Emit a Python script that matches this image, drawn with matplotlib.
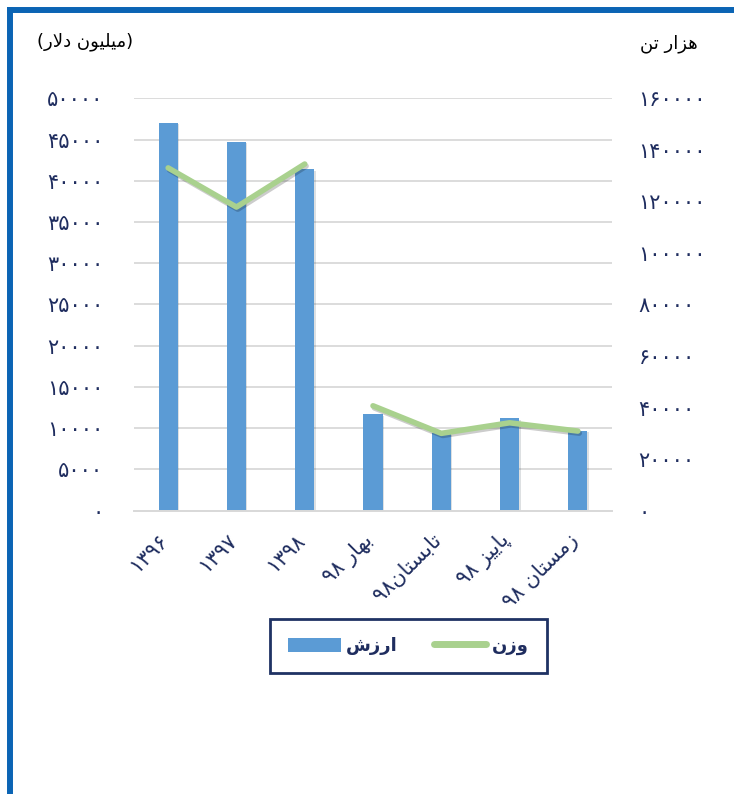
import re
import matplotlib
matplotlib.use("Agg")
import matplotlib.pyplot as plt
import matplotlib.transforms as mtransforms
import matplotlib.patheffects as pe
from matplotlib.patches import Patch
from matplotlib.lines import Line2D
import numpy as np

plt.rcParams['font.family'] = ['DejaVu Sans']

# ── data ──
categories = ['۱۳۹۶', '۱۳۹۷', '۱۳۹۸', 'بهار ۹۸', 'تابستان۹۸', 'پاییز ۹۸', 'زمستان ۹۸']
value_musd = [47000, 44700, 41400, 11700, 9400, 11200, 9700]        # ارزش (میلیون دلار)
weight_kt = [133000, 117800, 134500, 40700, 30000, 34100, 30900]     # وزن (هزار تن)
n_years = 3   # first three are whole years, the rest are seasons of 98 (line is broken between)
left_ticks = list(range(0, 50001, 5000))
right_ticks = list(range(0, 160001, 20000))

# ── tiny Persian shaper (matplotlib has no shaping / bidi) ──
# isolated, final, initial, medial
FORMS = {
    '\u0627': (0xFE8D, 0xFE8E), '\u062F': (0xFEA9, 0xFEAA), '\u0631': (0xFEAD, 0xFEAE),
    '\u0632': (0xFEAF, 0xFEB0), '\u0648': (0xFEED, 0xFEEE),
    '\u0628': (0xFE8F, 0xFE90, 0xFE91, 0xFE92), '\u067E': (0xFB56, 0xFB57, 0xFB58, 0xFB59),
    '\u062A': (0xFE95, 0xFE96, 0xFE97, 0xFE98), '\u0633': (0xFEB1, 0xFEB2, 0xFEB3, 0xFEB4),
    '\u0634': (0xFEB5, 0xFEB6, 0xFEB7, 0xFEB8), '\u0644': (0xFEDD, 0xFEDE, 0xFEDF, 0xFEE0),
    '\u0645': (0xFEE1, 0xFEE2, 0xFEE3, 0xFEE4), '\u0646': (0xFEE5, 0xFEE6, 0xFEE7, 0xFEE8),
    '\u0647': (0xFEE9, 0xFEEA, 0xFEEB, 0xFEEC), '\u06CC': (0xFBFC, 0xFBFD, 0xFBFE, 0xFBFF),
}


def shape(text):
    text = text.replace('\u064A', '\u06CC')
    out = []
    i = 0
    while i < len(text):
        c = text[i]
        if c not in FORMS:
            out.append(c)
            i += 1
            continue
        prev = text[i - 1] if i > 0 else ''
        joins_prev = prev in FORMS and len(FORMS[prev]) == 4
        if c == '\u0644' and i + 1 < len(text) and text[i + 1] == '\u0627':
            out.append(chr(0xFEFC if joins_prev else 0xFEFB))
            i += 2
            continue
        nxt = text[i + 1] if i + 1 < len(text) else ''
        joins_next = len(FORMS[c]) == 4 and nxt in FORMS
        f = FORMS[c]
        if joins_prev and joins_next:
            g = f[3]
        elif joins_prev:
            g = f[1]
        elif joins_next:
            g = f[2]
        else:
            g = f[0]
        out.append(chr(g))
        i += 1
    return ''.join(out)


def fa(text):
    parts = re.findall(r'\d+|\D+', shape(text))
    out = []
    for p in reversed(parts):
        if p[0].isdigit():
            out.append(p)
        else:
            out.append(p[::-1].translate(str.maketrans('()', ')(')))
    return ''.join(out)


def fa_num(n):
    return str(n).translate(str.maketrans('0123456789', '۰۱۲۳۴۵۶۷۸۹'))


# ── plot ──
W, H = 734, 794
fig = plt.figure(figsize=(W / 100, H / 100), dpi=100)
ax = fig.add_axes([134 / W, 1 - 510.7 / H, 478 / W, 412.4 / H])
ax2 = ax.twinx()

navy = '#1F2D5F'
bar_c = '#5B9BD5'
line_c = '#A9D18E'
grid_c = '#D9D9D9'

x = np.arange(len(categories))
ax.bar(x, value_musd, width=0.28, color=bar_c, zorder=2,
       path_effects=[pe.SimplePatchShadow(offset=(1, -1), alpha=0.15), pe.Normal()])

line_fx = [pe.SimpleLineShadow(offset=(1, -1.5), alpha=0.2), pe.Normal()]
ax2.plot(x[:n_years], weight_kt[:n_years], color=line_c, lw=4, solid_capstyle='round',
         solid_joinstyle='round', path_effects=line_fx)
ax2.plot(x[n_years:], weight_kt[n_years:], color=line_c, lw=4, solid_capstyle='round',
         solid_joinstyle='round', path_effects=line_fx)

ax.set_xlim(-0.5, len(categories) - 0.5)
ax.set_ylim(0, 50000)
ax2.set_ylim(0, 160000)

ax.set_yticks(left_ticks)
ax.set_yticklabels([fa_num(t) for t in left_ticks])
ax2.set_yticks(right_ticks)
ax2.set_yticklabels([fa_num(t) for t in right_ticks])

ax.yaxis.grid(True, color=grid_c, lw=1.3)
ax.set_axisbelow(True)
for a in (ax, ax2):
    for s in ('top', 'left', 'right'):
        a.spines[s].set_visible(False)
    a.spines['bottom'].set_color(grid_c)
    a.spines['bottom'].set_linewidth(1.3)

ax.tick_params(axis='y', length=0, pad=22, labelsize=15, labelcolor=navy)
ax2.tick_params(axis='y', length=0, pad=19, labelsize=15, labelcolor=navy)

ax.set_xticks(x)
ax.set_xticklabels([fa(c) for c in categories], rotation=45, ha='right', va='center',
                   rotation_mode='anchor', color=navy, fontsize=15)
ax.tick_params(axis='x', length=0, pad=19)
shift = mtransforms.ScaledTranslation(-0.03, 0, fig.dpi_scale_trans)
for lab in ax.get_xticklabels():
    lab.set_transform(lab.get_transform() + shift)

# axis titles
fig.text(37 / W, 1 - 42 / H, fa('(میلیون دلار)'), ha='left', va='center', fontsize=13, color='black')
fig.text(698 / W, 1 - 44 / H, fa('هزار تن'), ha='right', va='center', fontsize=13, color='black')

# legend
handles = [Patch(facecolor=bar_c, edgecolor='none'),
           Line2D([], [], color=line_c, lw=5, solid_capstyle='round')]
leg = fig.legend(handles, [fa('ارزش'), fa('وزن')], ncol=2, loc='center',
                 bbox_to_anchor=(408.5 / W, 1 - 646 / H), bbox_transform=fig.transFigure,
                 frameon=True, fancybox=False, edgecolor='#1F3264', framealpha=1,
                 prop={'weight': 'bold', 'size': 13}, labelcolor=navy,
                 handlelength=2.9, handleheight=0.8, handletextpad=0.3,
                 columnspacing=2.0, borderpad=1.0)
leg.get_frame().set_linewidth(2)

# outer blue frame (top and left only)
frame_c = '#0B64B4'
fig.add_artist(Line2D([7 / W, 1], [1 - 9.8 / H] * 2, color=frame_c, lw=4.3,
                      solid_capstyle='butt', transform=fig.transFigure))
fig.add_artist(Line2D([10 / W] * 2, [0, 1 - 7 / H], color=frame_c, lw=4.3,
                      solid_capstyle='butt', transform=fig.transFigure))

plt.savefig('out.png', dpi=100)
